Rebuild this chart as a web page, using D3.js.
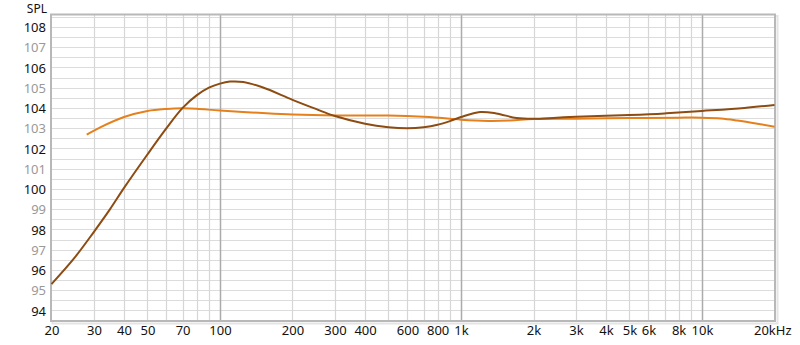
<!DOCTYPE html>
<html>
<head>
<meta charset="utf-8">
<script src="https://cdn.jsdelivr.net/npm/d3@7"></script>
<style>
  html, body { margin: 0; padding: 0; background: #fff; }
  svg { display: block; }
  text { font-family: "Noto Sans", "Liberation Sans", sans-serif; }
</style>
</head>
<body>
<svg id="chart" width="800" height="345"></svg>
<script>
// ---- data ----
const xTickValues = [20, 30, 40, 50, 70, 100, 200, 300, 400, 600, 800, 1000, 2000, 3000, 4000, 5000, 6000, 8000, 10000, 20000];
const xTickLabels = ["20", "30", "40", "50", "70", "100", "200", "300", "400", "600", "800", "1k", "2k", "3k", "4k", "5k", "6k", "8k", "10k", "20kHz"];
const yTickValues = [94, 95, 96, 97, 98, 99, 100, 101, 102, 103, 104, 105, 106, 107, 108];
const yAxisTitle = "SPL";

const brownFreq = [20, 25, 30, 35, 40, 50, 60, 70, 80, 90, 100, 110, 125, 150, 200, 250, 300, 400, 500, 600, 700, 800, 900, 1000, 1200, 1400, 1700, 2000, 2500, 3000, 5000, 7000, 10000, 15000, 20000];
const brownSPL  = [95.3, 96.62, 97.88, 99.0, 100.05, 101.7, 103.0, 104.0, 104.62, 105.0, 105.2, 105.3, 105.28, 105.02, 104.4, 103.95, 103.6, 103.22, 103.05, 103.0, 103.05, 103.17, 103.35, 103.55, 103.8, 103.73, 103.5, 103.46, 103.52, 103.56, 103.65, 103.73, 103.85, 104.0, 104.15];

const orangeFreq = [28, 32, 40, 50, 60, 70, 80, 100, 150, 200, 300, 500, 700, 900, 1000, 1300, 1600, 2000, 3000, 5000, 8000, 10000, 12000, 14000, 17000, 20000];
const orangeSPL  = [102.68, 103.05, 103.55, 103.85, 103.95, 103.98, 103.96, 103.87, 103.75, 103.68, 103.63, 103.62, 103.56, 103.47, 103.42, 103.36, 103.38, 103.45, 103.47, 103.5, 103.52, 103.52, 103.48, 103.38, 103.22, 103.07];

// ---- chart ----
const svg = d3.select("#chart");
const L = 51.5, R = 774.5, T = 15, B = 320.5;
const x = d3.scaleLog().domain([20, 20000]).range([L, R]);
const y = d3.scaleLinear().domain([93.5, 108.59]).range([B, T]);

// frame shadow
svg.append("rect").attr("x", L + 1).attr("y", T + 1).attr("width", R - L + 2).attr("height", B - T + 2)
  .attr("fill", "none").attr("stroke", "#e4e4e4").attr("stroke-width", 2);
svg.append("rect").attr("x", L).attr("y", T).attr("width", R - L).attr("height", B - T).attr("fill", "#fff");

// horizontal grid (every 0.5)
const hGrid = d3.range(94, 108.51, 0.5);
svg.append("g").selectAll("line").data(hGrid).join("line")
  .attr("x1", L).attr("x2", R)
  .attr("y1", d => Math.round(y(d)) + 0.5).attr("y2", d => Math.round(y(d)) + 0.5)
  .attr("stroke", "#dcdcdc").attr("stroke-width", 1);

// vertical grid
const vGrid = [];
[10, 100, 1000, 10000].forEach(dec => { for (let k = 1; k <= 9; k++) { const f = dec * k; if (f > 20 && f < 20000) vGrid.push(f); } });
svg.append("g").selectAll("line").data(vGrid).join("line")
  .attr("y1", T).attr("y2", B)
  .attr("x1", d => Math.round(x(d)) + 0.5).attr("x2", d => Math.round(x(d)) + 0.5)
  .attr("stroke", d => (d === 100 || d === 1000 || d === 10000) ? "#ababab" : "#d6d6d6")
  .attr("stroke-width", d => (d === 100 || d === 1000 || d === 10000) ? 1.5 : 1.2);

// frame
svg.append("rect").attr("x", L - 0.5).attr("y", T - 0.5).attr("width", R - L + 1).attr("height", B - T + 1)
  .attr("fill", "none").attr("stroke", "#b8b8b8").attr("stroke-width", 2);

// curves
const line = d3.line().x(d => x(d[0])).y(d => y(d[1])).curve(d3.curveCatmullRom.alpha(0.5));
svg.append("path").datum(orangeFreq.map((f, i) => [f, orangeSPL[i]]))
  .attr("d", line).attr("fill", "none").attr("stroke", "#e5801c").attr("stroke-width", 2);
svg.append("path").datum(brownFreq.map((f, i) => [f, brownSPL[i]]))
  .attr("d", line).attr("fill", "none").attr("stroke", "#8c4c12").attr("stroke-width", 2);

// y axis labels
const yAxis = d3.axisLeft(y).tickValues(yTickValues).tickSize(0).tickPadding(0).tickFormat(d3.format("d"));
const gy = svg.append("g").attr("transform", `translate(${46},0)`).call(yAxis);
gy.select(".domain").remove();
gy.selectAll("text").attr("font-size", 13).attr("font-family", "Noto Sans")
  .attr("fill", d => d % 2 === 0 ? "#111" : "#999").attr("dy", "0.36em");

// x axis labels
const xAxis = d3.axisBottom(x).tickValues(xTickValues).tickSize(0).tickPadding(0)
  .tickFormat((d, i) => xTickLabels[i]);
const gx = svg.append("g").attr("transform", `translate(0,${326})`).call(xAxis);
gx.select(".domain").remove();
gx.selectAll("text").attr("font-size", 13).attr("font-family", "Noto Sans").attr("fill", "#111")
  .attr("dy", "0.71em");
gx.selectAll(".tick").filter(d => d === 20000).select("text")
  .attr("text-anchor", "start").attr("x", -21);

// y title
svg.append("text").attr("x", 47).attr("y", 13).attr("text-anchor", "end")
  .attr("font-size", 12).attr("fill", "#111").text(yAxisTitle);
</script>
</body>
</html>
